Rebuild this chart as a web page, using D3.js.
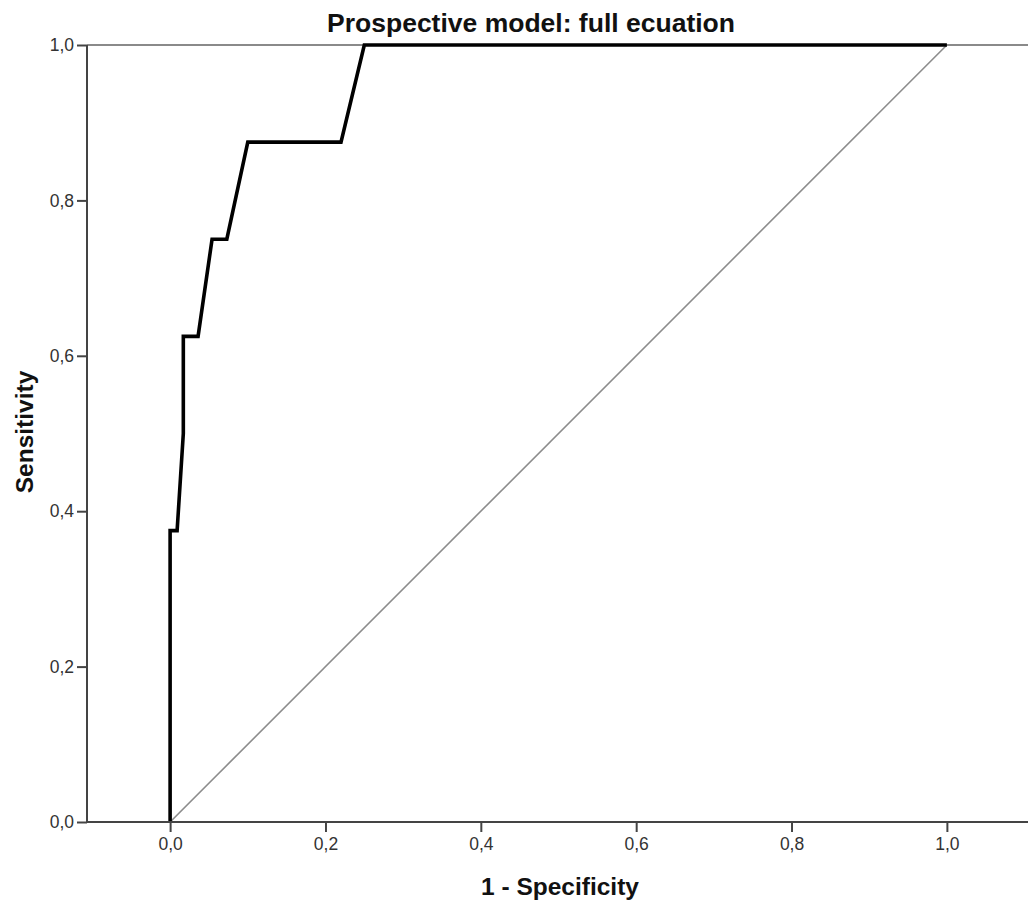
<!DOCTYPE html>
<html>
<head>
<meta charset="utf-8">
<script src="https://cdn.jsdelivr.net/npm/d3@7"></script>
<style>
  html, body { margin: 0; padding: 0; background: #fff; }
  svg { display: block; }
  text { font-family: "Liberation Sans", Arial, sans-serif; }
</style>
</head>
<body>
<svg id="chart" width="1028" height="908"></svg>
<script>
// ROC curve points (1 - specificity, sensitivity)
const fpr = [0, 0, 0.009, 0.017, 0.017, 0.036, 0.054, 0.073, 0.100, 0.220, 0.250, 1.000];
const tpr = [0, 0.375, 0.375, 0.500, 0.625, 0.625, 0.750, 0.750, 0.875, 0.875, 1.000, 1.000];

// Reference (chance) line
const refX = [0, 1];
const refY = [0, 1];

const xTicks = [0, 0.2, 0.4, 0.6, 0.8, 1.0];
const yTicks = [0, 0.2, 0.4, 0.6, 0.8, 1.0];

const titleText = "Prospective model: full ecuation";
const xLabel = "1 - Specificity";
const yLabel = "Sensitivity";

const svg = d3.select("#chart");
const fmt = v => d3.format(".1f")(v).replace(".", ",");

const x = d3.scaleLinear().domain([-0.107, 1.107]).range([87, 1030]);
const y = d3.scaleLinear().domain([0, 1]).range([822, 45]);

// frame top line
svg.append("line")
  .attr("x1", x(-0.107)).attr("x2", 1028)
  .attr("y1", y(1)).attr("y2", y(1))
  .attr("stroke", "#8a8a8a").attr("stroke-width", 2);

// diagonal reference
const line = d3.line().x(d => x(d[0])).y(d => y(d[1]));
svg.append("path")
  .datum(d3.zip(refX, refY))
  .attr("d", line)
  .attr("fill", "none")
  .attr("stroke", "#8c8c8c")
  .attr("stroke-width", 1.6);

// ROC curve
svg.append("path")
  .datum(d3.zip(fpr, tpr))
  .attr("d", line)
  .attr("fill", "none")
  .attr("stroke", "#000")
  .attr("stroke-width", 3.6)
  .attr("stroke-linejoin", "miter");

// axes
const xAxis = d3.axisBottom(x).tickValues(xTicks).tickFormat(fmt).tickSize(10).tickPadding(6);
const yAxis = d3.axisLeft(y).tickValues(yTicks).tickFormat(fmt).tickSize(10).tickPadding(3);

const gx = svg.append("g").attr("transform", `translate(0,${y(0)})`).call(xAxis);
const gy = svg.append("g").attr("transform", `translate(${x(-0.107)},0)`).call(yAxis);

[gx, gy].forEach(g => {
  g.select(".domain").remove();
  g.selectAll(".tick line").attr("stroke", "#444").attr("stroke-width", 2);
  g.selectAll(".tick text")
    .attr("fill", "#333")
    .style("font-size", "17.5px")
    .style("font-family", "'Liberation Sans', Arial, sans-serif");
});

// axis lines
svg.append("line")
  .attr("x1", x(-0.107)).attr("x2", 1028)
  .attr("y1", y(0)).attr("y2", y(0))
  .attr("stroke", "#444").attr("stroke-width", 2);
svg.append("line")
  .attr("x1", x(-0.107)).attr("x2", x(-0.107))
  .attr("y1", y(1)).attr("y2", y(0))
  .attr("stroke", "#444").attr("stroke-width", 2);

// title
svg.append("text")
  .attr("x", 531).attr("y", 32)
  .attr("text-anchor", "middle")
  .style("font-size", "26.5px").style("font-weight", "bold")
  .attr("fill", "#111")
  .text(titleText);

// x axis label
svg.append("text")
  .attr("x", 560).attr("y", 895)
  .attr("text-anchor", "middle")
  .style("font-size", "24.5px").style("font-weight", "bold")
  .attr("fill", "#111")
  .text(xLabel);

// y axis label
svg.append("text")
  .attr("transform", "translate(33,432) rotate(-90)")
  .attr("text-anchor", "middle")
  .style("font-size", "24.5px").style("font-weight", "bold")
  .attr("fill", "#111")
  .text(yLabel);
</script>
</body>
</html>
